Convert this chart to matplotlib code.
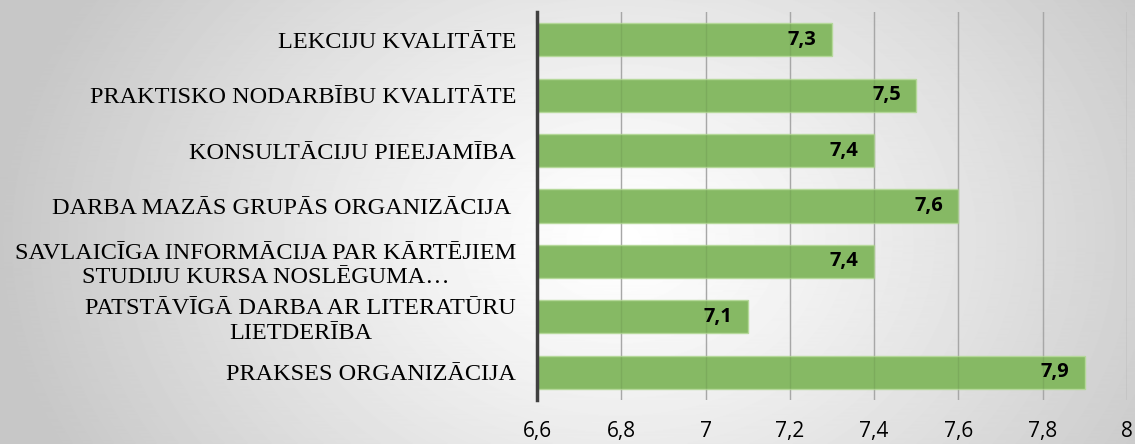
import matplotlib
matplotlib.use("Agg")
import matplotlib.pyplot as plt
import numpy as np

categories = [
    "LEKCIJU KVALITĀTE",
    "PRAKTISKO NODARBĪBU KVALITĀTE",
    "KONSULTĀCIJU PIEEJAMĪBA",
    "DARBA MAZĀS GRUPĀS ORGANIZĀCIJA ",
    "SAVLAICĪGA INFORMĀCIJA PAR KĀRTĒJIEM\nSTUDIJU KURSA NOSLĒGUMA…",
    "PATSTĀVĪGĀ DARBA AR LITERATŪRU\nLIETDERĪBA",
    "PRAKSES ORGANIZĀCIJA",
]
values = [7.3, 7.5, 7.4, 7.6, 7.4, 7.1, 7.9]
value_labels = ["7,3", "7,5", "7,4", "7,6", "7,4", "7,1", "7,9"]
xticks = [6.6, 6.8, 7.0, 7.2, 7.4, 7.6, 7.8, 8.0]
xtick_labels = ["6,6", "6,8", "7", "7,2", "7,4", "7,6", "7,8", "8"]

W, H = 1135, 444
fig = plt.figure(figsize=(W / 100, H / 100), dpi=100)

# radial gradient background
bg = fig.add_axes([0, 0, 1, 1])
yy, xx = np.mgrid[0:H, 0:W]
d = np.sqrt(((xx - 620) / 1.0) ** 2 + ((yy - 240) * 1.3) ** 2)
v = 1.0 - np.clip(d / 620.0, 0, 1) ** 1.2 * 0.22
bg.imshow(v, cmap="gray", vmin=0, vmax=1, aspect="auto", extent=[0, W, H, 0])
bg.set_axis_off()

left = 537 / W
right = 1127 / W
bottom = 1 - 400 / H
top = 1 - 12 / H
ax = fig.add_axes([left, bottom, right - left, top - bottom])
ax.patch.set_alpha(0)

y = np.arange(len(categories))
ax.barh(y, [v_ - 6.6 for v_ in values], left=6.6, height=0.6,
        color="#86B964", edgecolor="#B5D89A", linewidth=1.0, zorder=2)
ax.set_xlim(6.6, 8.0)
ax.set_ylim(len(categories) - 0.5, -0.5)

for xv in xticks[1:]:
    ax.axvline(xv, color="#b4b4b4", linewidth=1.0, zorder=1)
    ax.axvline(xv, color="#000000", alpha=0.07, linewidth=1.0, zorder=3)

for yi, val, lab in zip(y, values, value_labels):
    ax.annotate(lab, (val, yi), xytext=(-11, 0), textcoords="offset points",
                ha="right", va="center", fontsize=14.5, fontweight="bold",
                family="Open Sans", color="black", zorder=4)

ax.set_yticks(y)
ax.set_yticklabels(categories, family="Liberation Serif", fontsize=17.5,
                   multialignment="center", linespacing=1.2)
ax.tick_params(axis="y", length=0, pad=15)
ax.set_xticks(xticks)
ax.set_xticklabels(xtick_labels, family="Open Sans", fontsize=15)
ax.tick_params(axis="x", length=0, pad=15)

for s in ["top", "right", "bottom"]:
    ax.spines[s].set_visible(False)
ax.spines["left"].set_color("#404040")
ax.spines["left"].set_linewidth(2.5)
ax.spines["left"].set_zorder(5)

fig.savefig("out.png", dpi=100)
